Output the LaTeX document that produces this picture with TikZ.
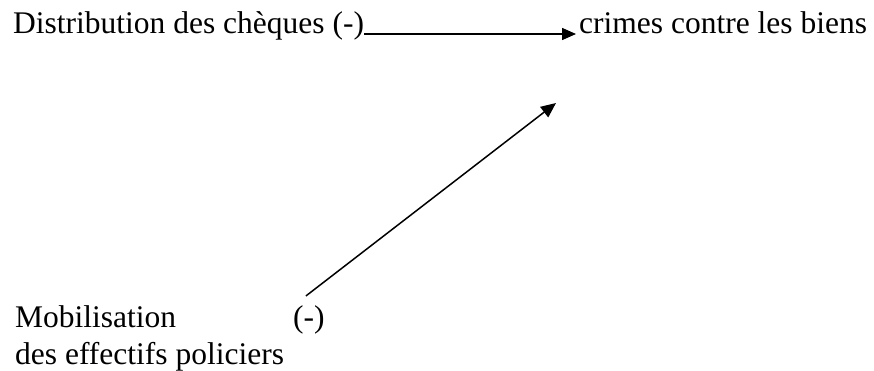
\documentclass[tikz,border=0pt]{standalone}
\usepackage{fontspec}
\setmainfont{Liberation Serif}
\usetikzlibrary{arrows.meta,calc}
\begin{document}
\begin{tikzpicture}[x=1pt,y=-1pt,
  lbl/.style={inner sep=0pt,anchor=base west,font=\fontsize{31.5}{37}\selectfont},
  conn/.style={line width=1.5pt}]
\useasboundingbox (0,0) rectangle (874,371);
\node[lbl] (dist) at (13,34) {Distribution des chèques (-)};
\node[lbl] (crimes) at (579,34) {crimes contre les biens};
\node[lbl] (mob1) at (15,327) {Mobilisation};
\node[lbl] (mob2) at (15,364) {des effectifs policiers};
\node[lbl] (minus) at (293,327) {(-)};
\coordinate (tip) at (556,103);
\coordinate (start) at ($(minus.north)+(-3,-9)$);
\draw[conn,-{Triangle[length=14pt,width=12pt]}] (dist.base east) -- ($(crimes.base west)+(-3,0)$);
\draw[conn,-{Triangle[length=15pt,width=13pt]}] (start) -- (tip);
\end{tikzpicture}
\end{document}
